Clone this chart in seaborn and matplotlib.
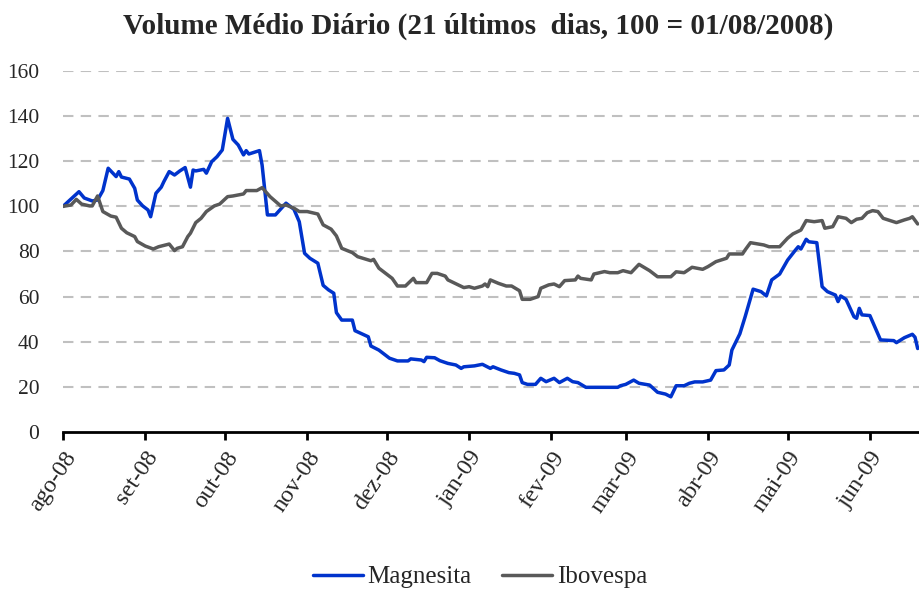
import pandas as pd
import matplotlib
matplotlib.use("Agg")
import matplotlib.pyplot as plt
import matplotlib.transforms as mtransforms
import seaborn as sns

# Volume medio diario (21 ultimos dias), base 100 = 01/08/2008
mag_dates = ["2008-08-01", "2008-08-07", "2008-08-09", "2008-08-12", "2008-08-14", "2008-08-16",
             "2008-08-18", "2008-08-21", "2008-08-22", "2008-08-23", "2008-08-26", "2008-08-28",
             "2008-08-29", "2008-08-31", "2008-09-02", "2008-09-03", "2008-09-05", "2008-09-07",
             "2008-09-08", "2008-09-10", "2008-09-12", "2008-09-14", "2008-09-16", "2008-09-18",
             "2008-09-19", "2008-09-20", "2008-09-23", "2008-09-24", "2008-09-26", "2008-09-28",
             "2008-09-30", "2008-10-02", "2008-10-04", "2008-10-06", "2008-10-08", "2008-10-09",
             "2008-10-10", "2008-10-14", "2008-10-15", "2008-10-17", "2008-10-20", "2008-10-24",
             "2008-10-26", "2008-10-27", "2008-10-29", "2008-10-31", "2008-11-02", "2008-11-05",
             "2008-11-07", "2008-11-09", "2008-11-11", "2008-11-12", "2008-11-14", "2008-11-18",
             "2008-11-19", "2008-11-24", "2008-11-25", "2008-11-28", "2008-12-02", "2008-12-05",
             "2008-12-09", "2008-12-10", "2008-12-14", "2008-12-15", "2008-12-16", "2008-12-19",
             "2008-12-21", "2008-12-24", "2008-12-27", "2008-12-29", "2008-12-30", "2009-01-03",
             "2009-01-06", "2009-01-09", "2009-01-10", "2009-01-13", "2009-01-16", "2009-01-18",
             "2009-01-20", "2009-01-21", "2009-01-23", "2009-01-26", "2009-01-28", "2009-01-30",
             "2009-02-02", "2009-02-04", "2009-02-07", "2009-02-09", "2009-02-11", "2009-02-14",
             "2009-02-26", "2009-02-27", "2009-03-01", "2009-03-04", "2009-03-06", "2009-03-10",
             "2009-03-13", "2009-03-16", "2009-03-18", "2009-03-20", "2009-03-23", "2009-03-25",
             "2009-03-27", "2009-03-30", "2009-04-02", "2009-04-04", "2009-04-07", "2009-04-09",
             "2009-04-10", "2009-04-13", "2009-04-15", "2009-04-18", "2009-04-21", "2009-04-23",
             "2009-04-25", "2009-04-28", "2009-05-01", "2009-05-04", "2009-05-05", "2009-05-06",
             "2009-05-08", "2009-05-09", "2009-05-12", "2009-05-14", "2009-05-16", "2009-05-19",
             "2009-05-20", "2009-05-21", "2009-05-23", "2009-05-26", "2009-05-27", "2009-05-28",
             "2009-05-29", "2009-06-01", "2009-06-05", "2009-06-10", "2009-06-11", "2009-06-14",
             "2009-06-17", "2009-06-18", "2009-06-19"]
mag_values = [100, 106.5, 103.7, 102.4, 102.8, 107, 116.9, 113.2, 115.4, 113, 112.1, 108,
              102.8, 100.2, 98.4, 95.4, 105.8, 108.5, 111, 115.4, 113.9, 115.7, 117.2, 108.5,
              116.1, 115.7, 116.4, 114.7, 119.8, 122, 125, 139, 129.7, 127.2, 122.8, 124.7,
              123.2, 124.7, 118.3, 96.2, 96.2, 101.4, 99.6, 98.7, 93.2, 79.2, 77, 74.8,
              65, 63, 61.5, 52.9, 49.6, 49.6, 44.9, 42.2, 38.1, 36.3, 32.7, 31.5,
              31.5, 32.4, 31.9, 31.2, 33.1, 32.9, 31.6, 30.4, 29.7, 28.2, 28.9, 29.3,
              30, 28.2, 28.9, 27.5, 26.3, 26, 25.3, 21.9, 21.1, 21.1, 23.8, 22.3,
              23.8, 21.9, 23.8, 22.3, 21.9, 19.8, 19.8, 20.5, 21.1, 23, 21.6, 20.8,
              17.6, 16.8, 15.6, 20.5, 20.5, 21.6, 22.2, 22.2, 23, 27.2, 27.5, 29.7,
              36.3, 43.5, 51.1, 63.3, 62.2, 60.3, 67.4, 70, 76.2, 80.7, 82.1, 81.1,
              85.4, 84.3, 83.9, 64.4, 62.2, 60.7, 57.8, 60.3, 58.8, 51.1, 50.4, 54.8,
              51.9, 51.6, 40.8, 40.5, 39.6, 41.8, 43.3, 42, 37]

ibov_dates = ["2008-08-01", "2008-08-04", "2008-08-06", "2008-08-08", "2008-08-11", "2008-08-12",
              "2008-08-14", "2008-08-16", "2008-08-19", "2008-08-21", "2008-08-23", "2008-08-25",
              "2008-08-28", "2008-08-29", "2008-09-01", "2008-09-04", "2008-09-06", "2008-09-10",
              "2008-09-12", "2008-09-13", "2008-09-15", "2008-09-17", "2008-09-18", "2008-09-20",
              "2008-09-22", "2008-09-24", "2008-09-27", "2008-09-29", "2008-10-02", "2008-10-04",
              "2008-10-08", "2008-10-09", "2008-10-13", "2008-10-15", "2008-10-18", "2008-10-22",
              "2008-10-24", "2008-10-27", "2008-10-29", "2008-11-01", "2008-11-05", "2008-11-07",
              "2008-11-10", "2008-11-12", "2008-11-14", "2008-11-18", "2008-11-20", "2008-11-25",
              "2008-11-26", "2008-11-28", "2008-12-03", "2008-12-05", "2008-12-08", "2008-12-11",
              "2008-12-12", "2008-12-16", "2008-12-18", "2008-12-20", "2008-12-23", "2008-12-24",
              "2008-12-30", "2009-01-01", "2009-01-03", "2009-01-06", "2009-01-07", "2009-01-08",
              "2009-01-09", "2009-01-12", "2009-01-15", "2009-01-17", "2009-01-20", "2009-01-21",
              "2009-01-24", "2009-01-27", "2009-01-28", "2009-01-31", "2009-02-02", "2009-02-04",
              "2009-02-06", "2009-02-10", "2009-02-11", "2009-02-12", "2009-02-16", "2009-02-17",
              "2009-02-21", "2009-02-23", "2009-02-26", "2009-02-28", "2009-03-03", "2009-03-06",
              "2009-03-10", "2009-03-13", "2009-03-18", "2009-03-20", "2009-03-23", "2009-03-26",
              "2009-03-30", "2009-04-01", "2009-04-04", "2009-04-08", "2009-04-09", "2009-04-14",
              "2009-04-15", "2009-04-17", "2009-04-22", "2009-04-24", "2009-04-28", "2009-05-01",
              "2009-05-03", "2009-05-06", "2009-05-08", "2009-05-11", "2009-05-14", "2009-05-15",
              "2009-05-18", "2009-05-20", "2009-05-23", "2009-05-25", "2009-05-27", "2009-05-29",
              "2009-05-31", "2009-06-02", "2009-06-04", "2009-06-06", "2009-06-10", "2009-06-11",
              "2009-06-14", "2009-06-16", "2009-06-17", "2009-06-19"]
ibov_values = [100, 100.6, 103.1, 101, 100.2, 100.2, 104.6, 97.7, 95.7, 95.2, 90.3, 88.3,
               86.6, 84.4, 82.4, 81.1, 82.1, 83.3, 80.4, 81.4, 82.1, 86.6, 88.1, 92.8,
               94.7, 97.7, 100.2, 101, 104.3, 104.6, 105.5, 107, 107, 108.3, 104.3, 100.2,
               100.6, 99.2, 97.7, 97.7, 96.6, 91.8, 89.9, 86.9, 81.4, 79.5, 77.7, 75.9,
               76.5, 72.6, 68.1, 64.7, 64.7, 68.1, 66.2, 66.2, 70.3, 70.3, 69.1, 67.4,
               64, 64.4, 63.7, 64.7, 65.6, 64.4, 67.4, 65.9, 64.7, 64.7, 62.6, 58.8,
               58.8, 60, 63.7, 65.2, 65.6, 64.4, 67.1, 67.4, 69.1, 68.1, 67.4, 70,
               71.1, 70.6, 70.6, 71.5, 70.6, 74.3, 71.5, 68.8, 68.8, 71, 70.6, 73,
               72.1, 73.3, 75.5, 77, 78.9, 78.9, 80.7, 83.9, 82.9, 82.1, 82.1, 85.9,
               87.8, 89.5, 93.7, 93.2, 93.7, 90.3, 91, 95.4, 94.7, 92.8, 94.3, 94.7,
               97.2, 98.1, 97.7, 94.7, 93.2, 92.8, 94, 94.7, 95.4, 92.2]

month_labels = ["ago-08", "set-08", "out-08", "nov-08", "dez-08", "jan-09",
                "fev-09", "mar-09", "abr-09", "mai-09", "jun-09"]

df = pd.concat([
    pd.DataFrame({"data": pd.to_datetime(mag_dates), "valor": mag_values, "serie": "Magnesita"}),
    pd.DataFrame({"data": pd.to_datetime(ibov_dates), "valor": ibov_values, "serie": "Ibovespa"}),
])

sns.set_theme(style="white")
plt.rcParams["font.family"] = ["Liberation Serif", "DejaVu Serif"]

fig = plt.figure(figsize=(9.19, 5.90), dpi=100)
ax = fig.add_axes([0.0686, 0.2678, 0.9314, 0.6119])

sns.lineplot(data=df, x="data", y="valor", hue="serie", estimator=None,
             palette={"Magnesita": "#0033cc", "Ibovespa": "#595959"},
             linewidth=2.5, ax=ax, legend=False)

ax.set_ylim(0, 160)
ax.set_yticks(range(0, 161, 20))
ax.set_xlim(pd.Timestamp("2008-08-01"), pd.Timestamp("2009-06-19 12:00"))
ax.set_xticks(pd.date_range("2008-08-01", "2009-06-01", freq="MS"))
ax.set_xticklabels(month_labels, rotation=56, ha="right", rotation_mode="anchor")
ax.set_xlabel("")
ax.set_ylabel("")

# shift the rotated month labels a little to the left, like the original
shift = mtransforms.ScaledTranslation(-5 / 100, 0, fig.dpi_scale_trans)
for lbl in ax.get_xticklabels():
    lbl.set_transform(lbl.get_transform() + shift)

for y in range(20, 161, 20):
    ax.axhline(y, color="#c0c0c0", linewidth=1.5, linestyle=(0, (5, 3.5)), zorder=0)

for side in ["left", "right", "top"]:
    ax.spines[side].set_visible(False)
ax.spines["bottom"].set_color("black")
ax.spines["bottom"].set_linewidth(2)

ax.tick_params(axis="x", direction="out", length=6, width=2, color="black",
               labelsize=17.5, pad=5, bottom=True)
ax.tick_params(axis="y", length=0, labelsize=15.5, pad=17)

ax.set_title("Volume Médio Diário (21 últimos  dias, 100 = 01/08/2008)",
             fontsize=21, fontweight="bold", pad=27, x=0.485)

handles = [plt.Line2D([], [], color="#0033cc", linewidth=2.5),
           plt.Line2D([], [], color="#595959", linewidth=2.5)]
fig.legend(handles, ["Magnesita", "Ibovespa"], loc="center", bbox_to_anchor=(0.522, 0.022),
           ncol=2, frameon=False, fontsize=18, handlelength=2.0, handletextpad=0.2,
           columnspacing=1.2)

fig.savefig("out.png", dpi=100)
